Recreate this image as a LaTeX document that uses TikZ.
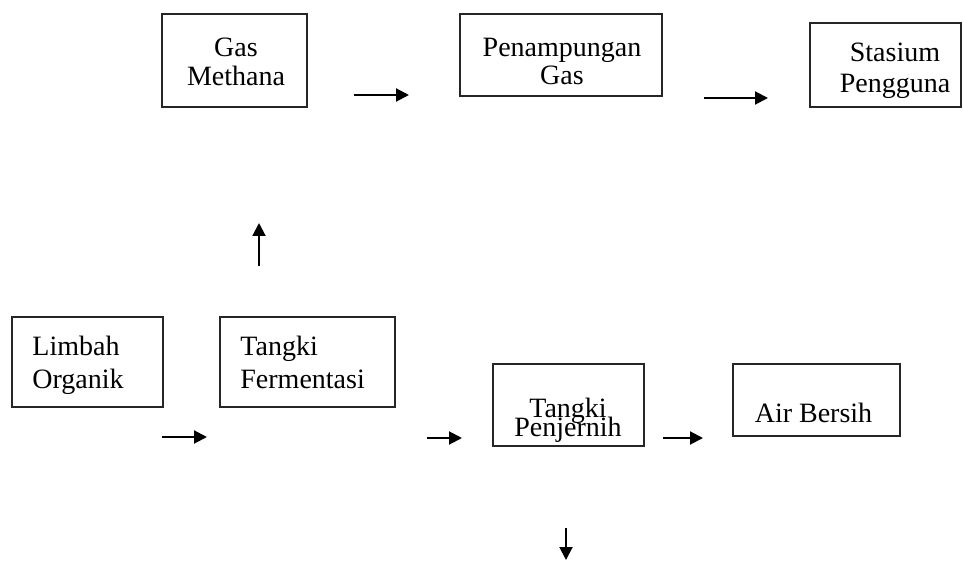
\documentclass[tikz,border=0pt]{standalone}
\usepackage{fontspec}
\setmainfont{Liberation Serif}
\usetikzlibrary{arrows.meta}

\begin{document}
\begin{tikzpicture}[
  x=0.5pt, y=-0.5pt, >={Triangle[length=6.5pt,width=6.5pt]},
  font=\fontsize{14}{14.5}\selectfont,
  box/.style={draw=black!85, line width=1pt, inner sep=0pt},
  lbl/.style={inner sep=0pt, align=center},
  flow/.style={->, line width=1pt}]
\useasboundingbox (0,0) rectangle (963,561);
% boxes
\node[box, minimum width=72.5pt, minimum height=46.5pt] (methana) at (234.5,60.5) {};
\node[box, minimum width=101pt, minimum height=41pt] (tampung) at (561,55) {};
\node[box, minimum width=75.5pt, minimum height=42pt] (stasium) at (885.5,65) {};
\node[box, minimum width=75.5pt, minimum height=45pt] (limbah) at (87.5,362) {};
\node[box, minimum width=87.5pt, minimum height=45pt] (ferment) at (307.5,362) {};
\node[box, minimum width=75.5pt, minimum height=41pt] (jernih) at (568.5,405) {};
\node[box, minimum width=83.5pt, minimum height=36pt] (air) at (816.5,400) {};
% texts
\node[lbl] (methanatxt) at (236,62) {Gas\\Methana};
\node[lbl] (tampungtxt) at (562,61.5) {Penampungan\\[-0.5pt]Gas};
\node[lbl] (stasiumtxt) at (895,71) {Stasium\\[1pt]Pengguna};
\node[lbl, align=left, anchor=west] (limbahtxt) at (32,365) {Limbah\\[2pt]Organik};
\node[lbl, align=left, anchor=west] (fermenttxt) at (240,362) {Tangki\\[2pt]Fermentasi};
\node[lbl] (jernihtxt) at (568,420) {Tangki\\[-5pt]Penjernih};
\node[lbl] (airtxt) at (813.5,412.5) {Air Bersih};
% loose arrows
\coordinate (g1) at (354,95);  \coordinate (g2) at (409,95);
\coordinate (g3) at (704,98);  \coordinate (g4) at (768,98);
\coordinate (u1) at (259,266); \coordinate (u2) at (259,223);
\coordinate (w1) at (162,437); \coordinate (w2) at (207,437);
\coordinate (w3) at (427,438); \coordinate (w4) at (462,438);
\coordinate (w5) at (663,438); \coordinate (w6) at (703,438);
\coordinate (d1) at (566,528); \coordinate (d2) at (566,560);
\draw[flow] (g1)--(g2); \draw[flow] (g3)--(g4); \draw[flow] (u1)--(u2);
\draw[flow] (w1)--(w2); \draw[flow] (w3)--(w4); \draw[flow] (w5)--(w6);
\draw[flow] (d1)--(d2);
\end{tikzpicture}
\end{document}
